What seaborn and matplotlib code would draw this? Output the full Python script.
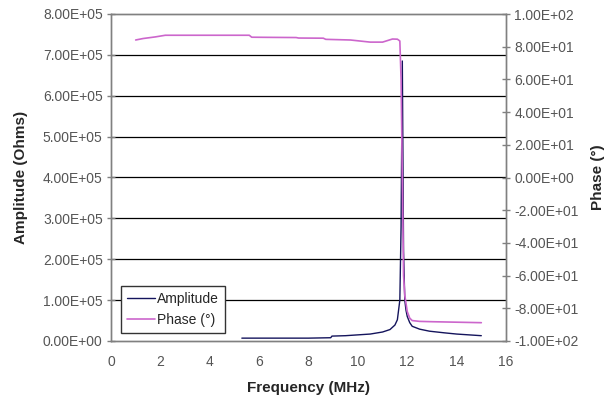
import matplotlib
matplotlib.use("Agg")
import matplotlib.pyplot as plt
import seaborn as sns
import pandas as pd

# Impedance sweep of the resonator: amplitude and phase versus frequency
amp_freq = [5.3, 6.0, 7.0, 8.0, 8.9, 8.95, 9.5, 10.0, 10.5, 11.0, 11.3, 11.5,
            11.6, 11.7, 11.75, 11.8, 11.85, 11.9, 11.95, 12.0, 12.1, 12.2,
            12.5, 12.9, 13.5, 14.0, 14.5, 15.0]
amplitude = [7e3, 7e3, 7e3, 7e3, 8e3, 1.2e4, 1.3e4, 1.5e4, 1.7e4, 2.2e4, 2.8e4,
             3.9e4, 5.2e4, 1.0e5, 2.8e5, 6.85e5, 2.2e5, 1.0e5, 7.5e4, 6.0e4,
             4.5e4, 3.6e4, 2.9e4, 2.4e4, 2.0e4, 1.7e4, 1.5e4, 1.3e4]

phase_freq = [1.0, 1.3, 1.8, 2.2, 3.0, 4.0, 5.0, 5.6, 5.7, 6.5, 7.5, 7.6, 8.6,
              8.7, 9.7, 10.5, 11.0, 11.4, 11.6, 11.7, 11.75, 11.8, 11.85, 11.9,
              12.0, 12.1, 12.2, 12.5, 13.0, 14.0, 15.0]
phase = [84.1, 85.0, 86.0, 87.0, 87.0, 87.0, 87.0, 87.0, 85.8, 85.7, 85.6, 85.3,
         85.2, 84.5, 84.1, 82.8, 82.8, 84.7, 84.6, 83.5, 60.0, 0.0, -60.0, -72.0,
         -82.0, -86.0, -87.5, -88.0, -88.2, -88.5, -88.8]

amp_ticks = [0, 1e5, 2e5, 3e5, 4e5, 5e5, 6e5, 7e5, 8e5]
amp_tick_labels = ["0.00E+00", "1.00E+05", "2.00E+05", "3.00E+05", "4.00E+05",
                   "5.00E+05", "6.00E+05", "7.00E+05", "8.00E+05"]
phase_ticks = [-100, -80, -60, -40, -20, 0, 20, 40, 60, 80, 100]
phase_tick_labels = ["-1.00E+02", "-8.00E+01", "-6.00E+01", "-4.00E+01",
                     "-2.00E+01", "0.00E+00", "2.00E+01", "4.00E+01",
                     "6.00E+01", "8.00E+01", "1.00E+02"]
freq_ticks = [0, 2, 4, 6, 8, 10, 12, 14, 16]

sns.set_theme(style="white")
plt.rcParams["font.family"] = ["Liberation Sans", "DejaVu Sans"]

amp_color = "#14145c"
phase_color = "#cc66cc"
spine_color = "#808080"
text_color = "#555555"
title_color = "#262626"

fig = plt.figure(figsize=(6.13, 3.98), dpi=100)
ax = fig.add_axes([111 / 613, 1 - 341 / 398, 395 / 613, 327 / 398])
ax2 = ax.twinx()

amp_df = pd.DataFrame({"freq": amp_freq, "amp": amplitude})
ph_df = pd.DataFrame({"freq": phase_freq, "phase": phase})

sns.lineplot(data=amp_df, x="freq", y="amp", ax=ax, color=amp_color,
             linewidth=1.0, label="Amplitude", legend=False)
sns.lineplot(data=ph_df, x="freq", y="phase", ax=ax2, color=phase_color,
             linewidth=1.2, label="Phase (°)", legend=False)

ax.set_xlim(0, 16)
ax.set_ylim(0, 8e5)
ax2.set_ylim(-100, 100)

ax.set_xticks(freq_ticks)
ax.set_xticklabels([str(t) for t in freq_ticks])
ax.set_yticks(amp_ticks)
ax.set_yticklabels(amp_tick_labels)
ax2.set_yticks(phase_ticks)
ax2.set_yticklabels(phase_tick_labels)

# Horizontal gridlines on the amplitude scale (interior only)
for y in amp_ticks[1:-1]:
    ax.axhline(y, color="black", linewidth=0.9, zorder=0.5)

for a in (ax, ax2):
    for s in a.spines.values():
        s.set_color(spine_color)
        s.set_linewidth(1.0)
    a.tick_params(direction="inout", length=6, width=1.0, color=spine_color,
                  labelsize=10, labelcolor=text_color, pad=3)
ax.tick_params(axis="x", pad=7)

ax.set_xlabel("Frequency (MHz)", fontsize=11, fontweight="bold",
              color=title_color, labelpad=9)
ax.set_ylabel("Amplitude (Ohms)", fontsize=11, fontweight="bold",
              color=title_color, labelpad=11)
ax2.set_ylabel("Phase (°)", fontsize=11, fontweight="bold",
               color=title_color, labelpad=9)

ax2.set_zorder(ax.get_zorder() + 1)
ax2.patch.set_visible(False)

h1, l1 = ax.get_legend_handles_labels()
h2, l2 = ax2.get_legend_handles_labels()
leg = ax2.legend(h1 + h2, l1 + l2, loc="lower left",
                 bbox_to_anchor=(0.025, 0.024), fontsize=10, frameon=True,
                 fancybox=False, edgecolor="#333333", framealpha=1,
                 handlelength=2.0, handletextpad=0.15, borderpad=0.45,
                 labelspacing=0.5, borderaxespad=0)
leg.get_frame().set_linewidth(1.0)
for t in leg.get_texts():
    t.set_color(title_color)

fig.savefig("out.png", dpi=100)
